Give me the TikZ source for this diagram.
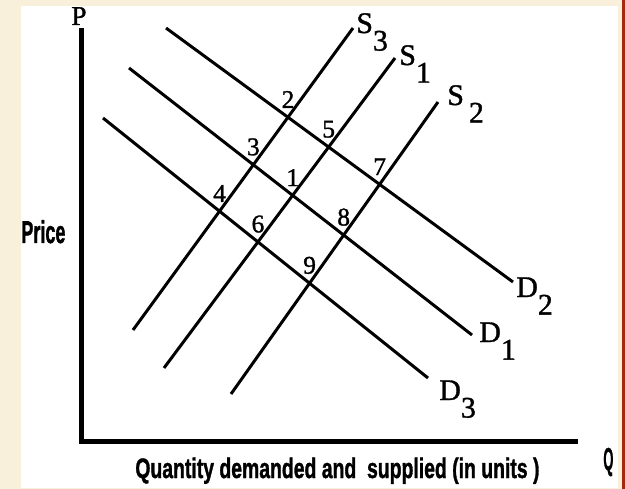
\documentclass[tikz,border=0pt]{standalone}
\usepackage{fontspec}
\setmainfont{Liberation Serif}
\newfontfamily\labelserif{Liberation Serif}[FakeBold=1.2]
\newfontfamily\axisfont{Liberation Sans Bold}[FakeBold=1.5]
\usepackage{tikz}
\usetikzlibrary{positioning}
\definecolor{pagecream}{HTML}{F9F0DC}
\definecolor{edgered}{HTML}{A5280F}
\newcommand{\curvename}[2]{#1\raisebox{-10pt}{#2}}
\tikzset{
  curve/.style={line width=1.7pt,black},
  axisline/.style={line width=2.8pt,black},
  curvelab/.style={anchor=base west,inner sep=0pt,font=\labelserif\fontsize{17}{17}\selectfont},
  ptlab/.style={anchor=south,inner sep=0pt,yshift=1.8mm,font=\labelserif\fontsize{14.5}{14.5}\selectfont},
  axislab/.style={anchor=base west,inner sep=0pt,font=\axisfont\fontsize{18}{18}\selectfont},
}

\begin{document}
\begin{tikzpicture}[x=0.02cm,y=-0.02cm]
  % page
  \fill[pagecream] (0,0) rectangle (625,489);
  \fill[white] (21,6) rectangle (618,488);
  \fill[edgered] (622,0) rectangle (625,489);
  \useasboundingbox (0,0) rectangle (625,489);
  % axes
  \coordinate (pTop) at (81.5,28);
  \coordinate (pO) at (81.5,441.5);
  \coordinate (qEnd) at (578,441.5);
  \draw[axisline] (pTop) -- (pO) -- (qEnd);
  % supply and demand curves
  \coordinate (s3a) at (133,330);  \coordinate (s3b) at (353,28);
  \coordinate (s1a) at (164,368);  \coordinate (s1b) at (395,58);
  \coordinate (s2a) at (231,394);  \coordinate (s2b) at (438,102);
  \coordinate (d2a) at (166,28);   \coordinate (d2b) at (513,282);
  \coordinate (d1a) at (129,68);   \coordinate (d1b) at (472,335);
  \coordinate (d3a) at (103,118);  \coordinate (d3b) at (428,378);
  \foreach \cv in {s3,s1,s2,d2,d1,d3}
    \draw[curve] (\cv a) -- (\cv b);
  \node[curvelab] (lS3) at (356,33) {\curvename{S}{3}};
  \node[curvelab] (lS1) at (399,65) {\curvename{S}{1}};
  \node[curvelab] (lS2) at (447,105) {\curvename{S\,}{2}};
  \node[curvelab] (lD2) at (516,297) {\curvename{D}{2}};
  \node[curvelab] (lD1) at (479,342) {\curvename{D}{1}};
  \node[curvelab] (lD3) at (439,400) {\curvename{D}{3}};
  % equilibrium points
  \foreach \sv/\dv/\n in {s3/d2/2, s1/d2/5, s2/d2/7, s3/d1/3, s1/d1/1, s2/d1/8, s3/d3/4, s1/d3/6, s2/d3/9}
    \node[ptlab] (pt\n) at (intersection of \sv a--\sv b and \dv a--\dv b) {\n};
  % axis labels
  \node[anchor=base west,inner sep=0pt,font=\labelserif\fontsize{15.5}{15.5}\selectfont] (lP) at (71,25) {P};
  \node[axislab] (lPrice) at (21,243) {\scalebox{0.57}[1]{Price}};
  \node[axislab,font=\axisfont\fontsize{16}{16}\selectfont] (lQty) at (135,478)
    {\scalebox{0.69}[1]{Quantity demanded and\ \ supplied (in units )}};
  \node[axislab] (lQ) at (603,470) {\scalebox{0.41}[1]{Q}};
\end{tikzpicture}
\end{document}
